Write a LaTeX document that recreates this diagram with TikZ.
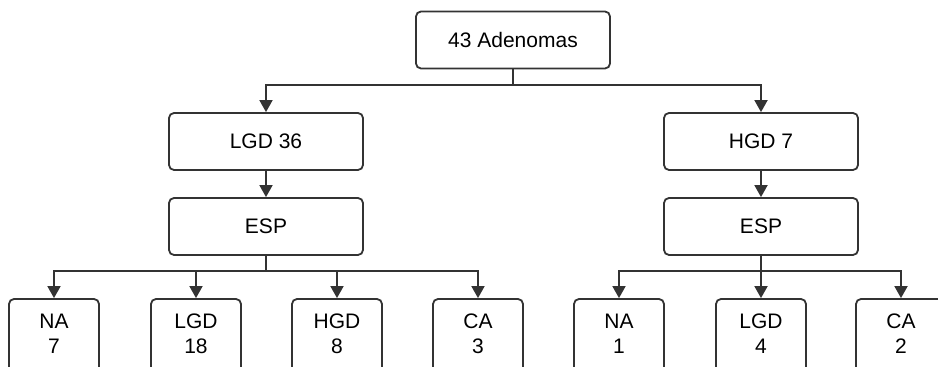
\documentclass[tikz,border=0pt]{standalone}
\usepackage{fontspec}
\setmainfont{Liberation Sans}
\usetikzlibrary{arrows.meta}
\usetikzlibrary{positioning}

\tikzset{
    stagebox/.style={draw=black!80, line width=0.9pt, rounded corners=2.5pt, fill=white,
        minimum width=97pt, minimum height=28.5pt, inner sep=0pt,
        font=\fontsize{10.5}{12.5}\selectfont},
    countbox/.style={stagebox, minimum width=45pt, minimum height=40pt, text depth=5.5pt, align=center},
    link/.style={draw=black!80, line width=0.9pt, -{Triangle[width=6.5pt,length=6pt]}}
}

\begin{document}
\begin{tikzpicture}[x=0.5pt, y=-0.5pt]
    \useasboundingbox (0,0) rectangle (938,367);

    % all adenomas
    \node[stagebox] (adeno) at (513,40) {43 Adenomas};
    \coordinate (splittop) at (513,85);
    % low grade branch
    \node[stagebox] (lgd) at (266,141.5) {LGD 36};
    \node[stagebox] (espl) at (266,226.5) {ESP};
    % high grade branch
    \node[stagebox] (hgd) at (761,141.5) {HGD 7};
    \node[stagebox] (espr) at (761,226.5) {ESP};
    \draw[link] (adeno.south) -- (splittop) -| (lgd.north);
    \draw[link] (adeno.south) -- (splittop) -| (hgd.north);
    \draw[link] (lgd) -- (espl);
    \draw[link] (hgd) -- (espr);

    % outcomes after ESP (LGD)
    \coordinate (splitl) at (266,271);
    \node[countbox] (lna) at (54,339) {NA\\7};
    \node[countbox] (llgd) at (196,339) {LGD\\18};
    \node[countbox] (lhgd) at (337,339) {HGD\\8};
    \node[countbox] (lca) at (478,339) {CA\\3};
    \foreach \n in {lna,llgd,lhgd,lca}
        \draw[link] (espl.south) -- (splitl) -| (\n.north);

    % outcomes after ESP (HGD)
    \coordinate (splitr) at (761,271);
    \node[countbox] (rna) at (619,339) {NA\\1};
    \node[countbox] (rlgd) at (761,339) {LGD\\4};
    \node[countbox] (rca) at (901,339) {CA\\2};
    \foreach \n in {rna,rlgd,rca}
        \draw[link] (espr.south) -- (splitr) -| (\n.north);

\end{tikzpicture}
\end{document}
